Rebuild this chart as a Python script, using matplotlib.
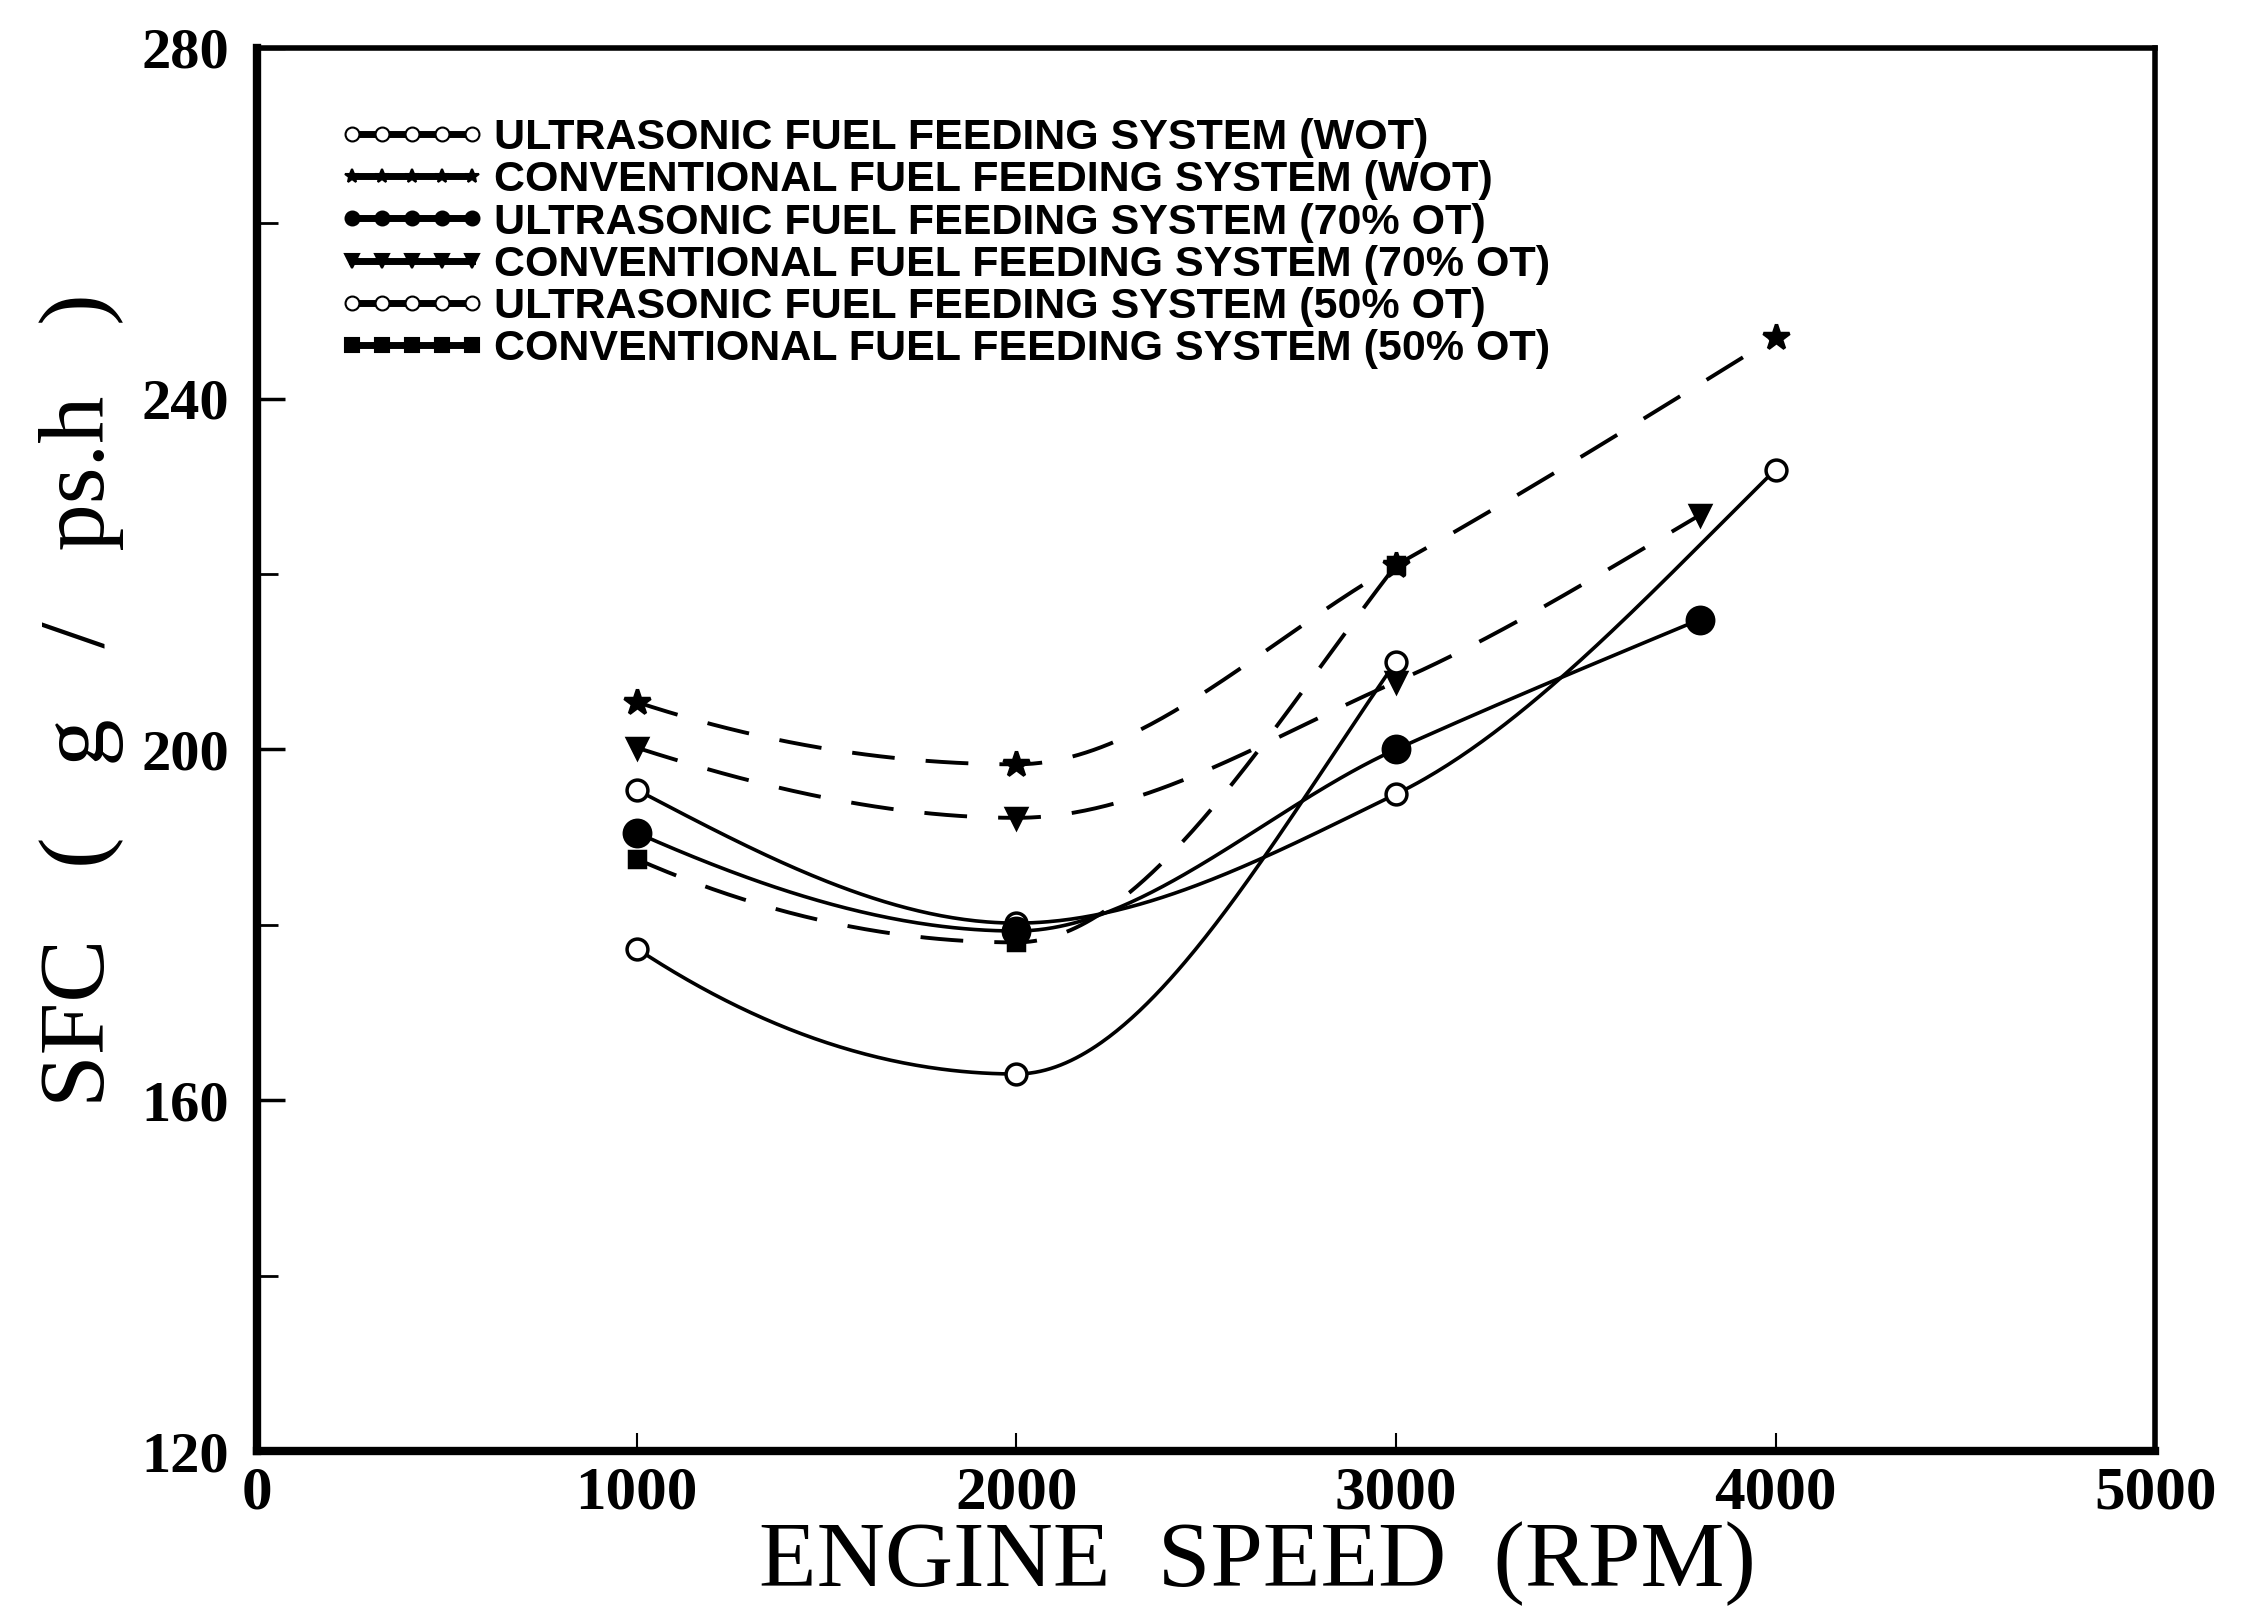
import numpy as np
import matplotlib
matplotlib.use("Agg")
import matplotlib.pyplot as plt
from matplotlib.lines import Line2D

# valores (SFC en g/ps.h)
rpm_4 = [1000, 2000, 3000, 4000]
rpm_38 = [1000, 2000, 3000, 3800]
rpm_3 = [1000, 2000, 3000]

ultra_wot = [195.4, 180.2, 194.9, 231.9]
conv_wot = [205.4, 198.3, 221.0, 247.0]
ultra_70 = [190.5, 179.3, 200.0, 214.8]
conv_70 = [200.2, 192.2, 207.7, 226.7]
ultra_50 = [177.3, 163.0, 210.0]
conv_50 = [187.5, 178.0, 221.0]

etiquetas = [
    "ULTRASONIC FUEL FEEDING SYSTEM (WOT)",
    "CONVENTIONAL FUEL FEEDING SYSTEM (WOT)",
    "ULTRASONIC FUEL FEEDING SYSTEM (70% OT)",
    "CONVENTIONAL FUEL FEEDING SYSTEM (70% OT)",
    "ULTRASONIC FUEL FEEDING SYSTEM (50% OT)",
    "CONVENTIONAL FUEL FEEDING SYSTEM (50% OT)",
]

series = [
    (rpm_4, ultra_wot, "-", "o", "white", 15),
    (rpm_4, conv_wot, "--", "*", "black", 19),
    (rpm_38, ultra_70, "-", "o", "black", 19),
    (rpm_38, conv_70, "--", "v", "black", 15),
    (rpm_3, ultra_50, "-", "o", "white", 15),
    (rpm_3, conv_50, "--", "s", "black", 11),
]


def curva_suave(x, y, xs):
    # hermite cubica por tramos (pendientes tipo pchip)
    h = np.diff(x)
    d = np.diff(y) / h
    n = len(x)
    m = np.zeros(n)
    for k in range(1, n - 1):
        if d[k - 1] * d[k] > 0:
            w1 = 2 * h[k] + h[k - 1]
            w2 = h[k] + 2 * h[k - 1]
            m[k] = (w1 + w2) / (w1 / d[k - 1] + w2 / d[k])

    def extremo(h0, h1, d0, d1):
        mm = ((2 * h0 + h1) * d0 - h0 * d1) / (h0 + h1)
        if np.sign(mm) != np.sign(d0):
            mm = 0.0
        elif np.sign(d0) != np.sign(d1) and abs(mm) > 3 * abs(d0):
            mm = 3 * d0
        return 0.5 * (mm + d0)

    m[0] = extremo(h[0], h[1], d[0], d[1])
    m[-1] = extremo(h[-1], h[-2], d[-1], d[-2])
    idx = np.clip(np.searchsorted(x, xs) - 1, 0, n - 2)
    t = (xs - x[idx]) / h[idx]
    h00 = 2 * t**3 - 3 * t**2 + 1
    h10 = t**3 - 2 * t**2 + t
    h01 = -2 * t**3 + 3 * t**2
    h11 = t**3 - t**2
    return (h00 * y[idx] + h10 * h[idx] * m[idx]
            + h01 * y[idx + 1] + h11 * h[idx] * m[idx + 1])


fig = plt.figure(figsize=(22.65, 16.16), dpi=100)
ax = fig.add_axes([0.1135, 0.102, 0.838, 0.8685])

proxies = []
for x, y, ls, mk, fc, ms in series:
    x = np.array(x, dtype=float) / 1000.0
    y = np.array(y, dtype=float)
    xs = np.linspace(x[0], x[-1], 300)
    ys = curva_suave(x, y, xs)
    if ls == "--":
        ax.plot(xs * 1000, ys, color="black", lw=2.8, dashes=(11, 8))
    else:
        ax.plot(xs * 1000, ys, color="black", lw=2.6)
    ax.plot(x * 1000, y, linestyle="none", marker=mk, ms=ms, mfc=fc, mec="black", mew=2.5)
    proxies.append(Line2D([0], [0], color="black", lw=5, marker=mk, ms=10,
                          mfc=fc, mec="black", mew=1.5))

leg = ax.legend(proxies, etiquetas, loc="upper left", bbox_to_anchor=(0.034, 0.962),
                numpoints=5, handlelength=3.4, handletextpad=0.2, labelspacing=0.05,
                frameon=False, borderaxespad=0.0,
                prop={"family": "Liberation Sans", "weight": "bold", "size": 31})

ax.set_xlim(0, 5000)
ax.set_ylim(120, 280)
ax.set_xticks([0, 1000, 2000, 3000, 4000, 5000])
ax.set_yticks([120, 160, 200, 240, 280])
ax.set_yticks([140, 180, 220, 260], minor=True)

ax.tick_params(axis="y", which="major", direction="in", length=20, width=2.5, pad=20)
ax.tick_params(axis="y", which="minor", direction="in", length=15, width=2.0)
ax.tick_params(axis="x", which="major", direction="in", length=13, width=1.5, pad=10)

for lab in ax.get_yticklabels():
    lab.set_family("Liberation Serif")
    lab.set_weight("bold")
    lab.set_fontsize(42)
for lab in ax.get_xticklabels():
    lab.set_family("Liberation Serif")
    lab.set_weight("bold")
    lab.set_fontsize(44)

for lado, ancho in [("left", 6), ("bottom", 6), ("top", 4), ("right", 4)]:
    ax.spines[lado].set_linewidth(ancho)

ax.set_xlabel("ENGINE  SPEED  (RPM)", family="Liberation Serif", fontsize=68)
ax.xaxis.set_label_coords(0.527, -0.05)
ax.set_ylabel("SFC   (   g   /   ps.h   )", family="Liberation Serif", fontsize=68)
ax.yaxis.set_label_coords(-0.07, 0.535)

fig.savefig("out.png", dpi=100)
